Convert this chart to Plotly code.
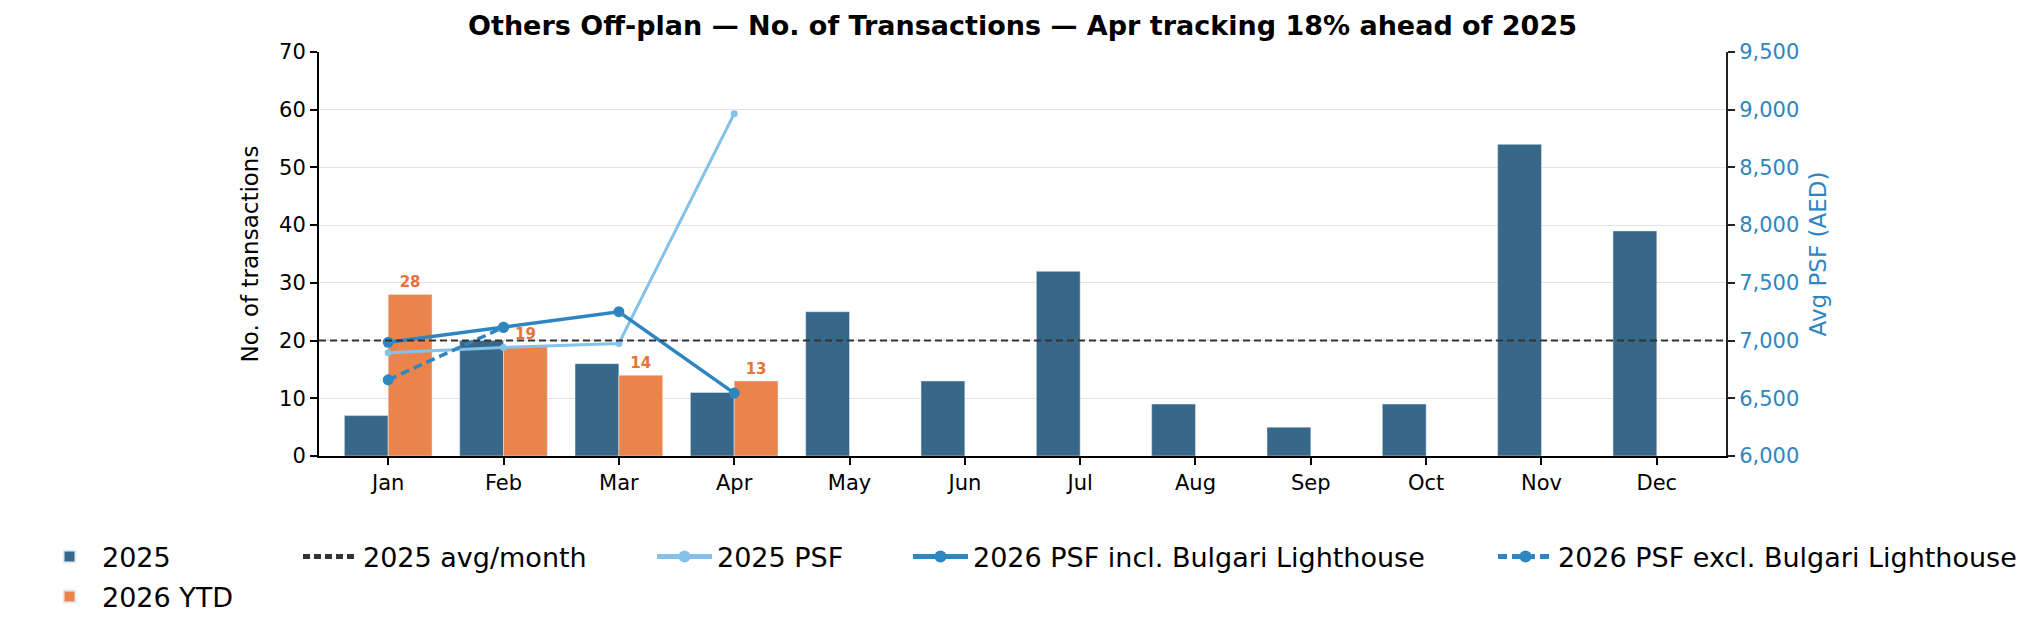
import plotly.graph_objects as go

months = ["Jan", "Feb", "Mar", "Apr", "May", "Jun", "Jul", "Aug", "Sep", "Oct", "Nov", "Dec"]
tx_2025 = [7, 20, 16, 11, 25, 13, 32, 9, 5, 9, 54, 39]
tx_2026 = [28, 19, 14, 13]
psf_2025 = [6895, 6940, 6975, 8965]
psf_2026_incl = [6985, 7115, 7250, 6545]
psf_2026_excl = [6660, 7115]

avg_2025 = sum(tx_2025) / len(tx_2025)

BLUE_BAR = "#376889"
ORANGE_BAR = "#EB844B"
ORANGE_TXT = "#E8733A"
PSF_LIGHT = "#85C1E9"
PSF_DARK = "#2E86C1"

# page has an 8px body margin, so margins are shifted by it
OFF = 8
L, R, T, B = 319 - OFF, 318 + OFF, 52 - OFF, 182 + OFF
W, H = 2044, 638
PW, PH = W - L - R, H - T - B


def px_x(px):
    # px = position on the page
    return (px - OFF - L) / PW


def px_y(py):
    return (H - B - (py - OFF)) / PH


fig = go.Figure()

fig.add_trace(go.Bar(x=months, y=tx_2025, name="2025", marker_color=BLUE_BAR,
                     legend="legend", showlegend=True))
fig.add_trace(go.Bar(x=months[:len(tx_2026)], y=tx_2026, name="2026 YTD",
                     marker_color=ORANGE_BAR, legend="legend2", showlegend=True,
                     text=[str(v) for v in tx_2026], textposition="outside",
                     textfont=dict(size=15, color=ORANGE_TXT, family="DejaVu Sans", weight="bold"),
                     cliponaxis=False))

fig.add_trace(go.Scatter(x=months[:len(psf_2025)], y=psf_2025, yaxis="y2", name="2025 PSF",
                         mode="lines+markers", line=dict(color=PSF_LIGHT, width=3),
                         marker=dict(size=7, color=PSF_LIGHT), legend="legend4"))
fig.add_trace(go.Scatter(x=months[:len(psf_2026_incl)], y=psf_2026_incl, yaxis="y2",
                         name="2026 PSF incl. Bulgari Lighthouse", mode="lines+markers",
                         line=dict(color=PSF_DARK, width=3.5),
                         marker=dict(size=11, color=PSF_DARK), legend="legend5"))
fig.add_trace(go.Scatter(x=months[:len(psf_2026_excl)], y=psf_2026_excl, yaxis="y2",
                         name="2026 PSF excl. Bulgari Lighthouse", mode="lines+markers",
                         line=dict(color=PSF_DARK, width=3.5, dash="9px,5px"),
                         marker=dict(size=11, color=PSF_DARK), legend="legend6"))

fig.add_shape(type="line", xref="paper", x0=0, x1=1, yref="y", y0=avg_2025, y1=avg_2025,
              line=dict(color="#333333", width=2, dash="7px,4px"), layer="above",
              showlegend=True, name="2025 avg/month", legend="legend3")

legend_font = dict(family="DejaVu Sans", size=27, color="black")


def leg(text_px, row_py):
    return dict(x=px_x(text_px - 66), y=px_y(row_py), xanchor="left", yanchor="middle",
                orientation="h", font=legend_font, bgcolor="rgba(0,0,0,0)",
                itemwidth=55, itemsizing="constant", visible=True)


fig.update_layout(
    width=W, height=H,
    showlegend=True,
    margin=dict(l=L, r=R, t=T, b=B, autoexpand=False),
    paper_bgcolor="white", plot_bgcolor="white",
    font=dict(family="DejaVu Sans", size=21, color="black"),
    title=dict(text="<b>Others Off-plan — No. of Transactions — Apr tracking 18% ahead of 2025</b>",
               x=0.5, xref="paper", xanchor="center",
               y=1 - (26 - OFF) / H, yanchor="middle", font=dict(size=27, color="black")),
    barmode="group", bargap=0.24, bargroupgap=0,
    xaxis=dict(range=[-0.6, 11.6], showline=True, linecolor="black", linewidth=2,
               ticks="outside", ticklen=7, tickwidth=2, tickcolor="black",
               showgrid=False, tickfont=dict(size=21)),
    yaxis=dict(title=dict(text="No. of transactions", font=dict(size=23), standoff=14),
               range=[0, 70], dtick=10, showline=True, linecolor="black", linewidth=2,
               ticks="outside", ticklen=7, tickwidth=2, tickcolor="black",
               showgrid=True, gridcolor="#e3e3e3", gridwidth=1, zeroline=False,
               tickfont=dict(size=21)),
    yaxis2=dict(title=dict(text="Avg PSF (AED)", font=dict(size=23, color=PSF_DARK), standoff=12),
                overlaying="y", side="right", range=[6000, 9500], dtick=500,
                tickformat=",", showline=True, linecolor="#222222", linewidth=2,
                ticks="outside", ticklen=7, tickwidth=2, tickcolor="#222222",
                showgrid=False, zeroline=False, tickfont=dict(size=21, color=PSF_DARK)),
    legend=leg(103, 557),
    legend2=leg(103, 597),
    legend3=leg(364, 557),
    legend4=leg(718, 557),
    legend5=leg(974, 557),
    legend6=leg(1559, 557),
)

fig.write_html("out.html")
